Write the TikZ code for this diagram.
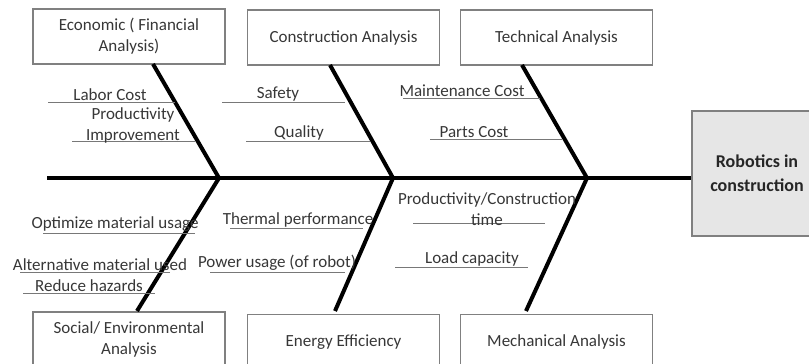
\documentclass[tikz,border=0pt]{standalone}
\usepackage{fontspec}
\setmainfont{Carlito}
\definecolor{txt}{RGB}{55,55,55}
\definecolor{boxline}{RGB}{128,128,128}
\definecolor{subline}{RGB}{120,120,120}
\definecolor{headfill}{RGB}{230,230,230}
\begin{document}
\begin{tikzpicture}[x=1pt,y=-1pt,
  font=\fontsize{17}{21}\selectfont, text=txt,
  catbox/.style={draw=boxline, line width=1.4pt, minimum width=192pt, minimum height=55pt, align=center, inner sep=0pt},
  headbox/.style={draw=boxline, line width=1.4pt, fill=headfill, minimum width=130pt, minimum height=125pt, align=center, font=\fontsize{18}{24}\selectfont\bfseries, text=black!85},
  lbl/.style={anchor=south, inner sep=1pt, align=center},
  sub/.style={draw=subline, line width=1pt},
  bone/.style={draw=black, line width=4pt},
  spine/.style={draw=black, line width=3.6pt}]
\useasboundingbox (0,0) rectangle (809,364);
\clip (0,0) rectangle (809,364);
% category boxes
\node[catbox] (econ) at (129,36.5) {Economic ( Financial\\Analysis)};
\node[catbox] (cons) at (343.5,37.5) {Construction Analysis};
\node[catbox] (tech) at (556.5,37.5) {Technical Analysis};
\node[catbox] (soc) at (129,339.5) {Social/ Environmental\\Analysis};
\node[catbox] (ener) at (343.5,342) {Energy Efficiency};
\node[catbox] (mech) at (556.5,342) {Mechanical Analysis};
% head
\node[headbox] (head) at (757,173.5) {Robotics in\\construction};
% spine
\coordinate (tail) at (47,178);
\draw[spine] (tail) -- (tail -| head.west);
% junctions
\coordinate (j1) at (219,178);
\coordinate (j2) at (393,178);
\coordinate (j3) at (587,178);
% bone ends
\coordinate (t1) at (153,64);
\coordinate (t2) at (330,65);
\coordinate (t3) at (522,65);
\coordinate (b1) at (137,311);
\coordinate (b2) at (335,311);
\coordinate (b3) at (526,311);
\draw[bone] (t1) -- (j1);
\draw[bone] (t2) -- (j2);
\draw[bone] (t3) -- (j3);
\draw[bone] (b1) -- (j1);
\draw[bone] (b2) -- (j2);
\draw[bone] (b3) -- (j3);
% sub causes top-left
\draw[sub] (48,102) -- (175,102);
\node[lbl] (l1) at (110,102) {Labor Cost};
\draw[sub] (72,141) -- (195,141);
\node[lbl] (l2) at (133,144) {Productivity\\Improvement};
% top-middle
\draw[sub] (222,102) -- (345,102);
\node[lbl] (l3) at (278,102) {Safety};
\draw[sub] (246,141) -- (370,141);
\node[lbl] (l4) at (299,141) {Quality};
% top-right
\draw[sub] (403,98) -- (540,98);
\node[lbl] (l5) at (462,98) {Maintenance Cost};
\draw[sub] (430,139) -- (562,139);
\node[lbl] (l6) at (474,139) {Parts Cost};
% bottom-left
\draw[sub] (43,233) -- (195,233);
\node[lbl] (l7) at (115,233) {Optimize material usage};
\draw[sub] (20,272) -- (170,272);
\node[lbl] (l8) at (100,272) {Alternative material used};
\draw[sub] (23,293) -- (155,293);
\node[lbl] (l9) at (89,293) {Reduce hazards};
% bottom-middle
\draw[sub] (230,228) -- (363,228);
\node[lbl] (l10) at (298,228) {Thermal performance};
\draw[sub] (210,272) -- (345,272);
\node[lbl] (l11) at (277,272) {Power usage (of robot)};
% bottom-right
\draw[sub] (413,223) -- (545,223);
\node[lbl] (l12) at (487,227) {Productivity/Construction\\time};
\draw[sub] (395,267) -- (528,267);
\node[lbl] (l13) at (472,267) {Load capacity};
\end{tikzpicture}
\end{document}
